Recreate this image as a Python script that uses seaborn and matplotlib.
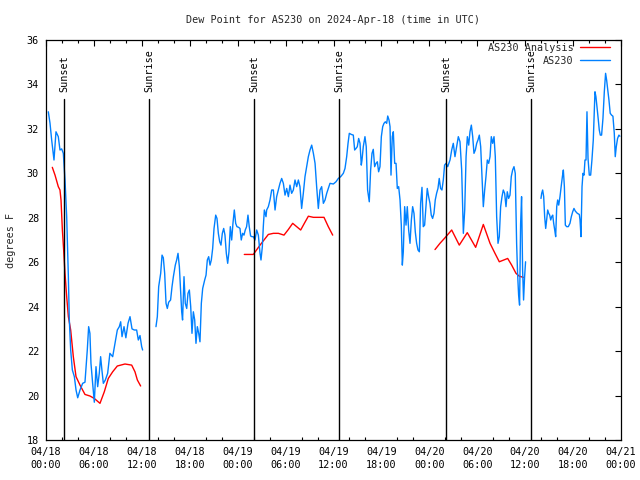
import numpy as np
import pandas as pd
import matplotlib
matplotlib.use("Agg")
import matplotlib.pyplot as plt
import matplotlib.transforms as mtransforms
from matplotlib.lines import Line2D
from matplotlib.ticker import MultipleLocator
import seaborn as sns

nan = np.nan

title = "Dew Point for AS230 on 2024-Apr-18 (time in UTC)"
y_label = "degrees F"
series_names = ["AS230 Analysis", "AS230"]
series_colors = ["#ff0000", "#0080ff"]

# hours since 2024-04-18 00:00 UTC ; NaN marks a gap in the record
obs_hours = [
    0.29, 0.5, 0.71, 1.0, 1.25, 1.54, 1.75, 1.96, 2.17, 2.38, 2.59, 2.8, 2.92, 3.09, 3.3, 3.55, 3.76, 3.97,
    4.26, 4.59, 4.88, 5.17, 5.34, 5.5, 5.63, 5.84, 6.05, 6.26, 6.47, 6.67, 6.84, 7.0, 7.18, 7.43, 7.72, 8.0,
    8.35, 8.64, 8.93, 9.18, 9.35, 9.52, 9.77, 10.0, 10.27, 10.52, 10.77, 11.06, 11.35, 11.56, 11.77, 11.98, 12.1,
    nan,
    13.77, 13.94, 14.11, 14.36, 14.53, 14.69, 14.86, 15.03, 15.19, 15.36, 15.6, 15.78, 15.95, 16.19, 16.36,
    16.53, 16.7, 16.87, 16.99, 17.1, 17.28, 17.44, 17.62, 17.78, 17.95, 18.12, 18.28, 18.45, 18.62, 18.78,
    18.95, 19.12, 19.28, 19.45, 19.62, 19.87, 20.04, 20.2, 20.37, 20.54, 20.7, 20.87, 21.04, 21.25, 21.41,
    21.58, 21.75, 21.91, 22.08, 22.25, 22.41, 22.58, 22.75, 22.91, 23.08, 23.25, 23.41, 23.58, 23.75, 23.91,
    24.12, 24.29, 24.45, 24.62, 24.79, 24.95, 25.12, 25.29, 25.45, 25.62, 25.79,
    25.96, 26.17, 26.38, 26.59, 26.8, 26.92, 27.09, 27.21, 27.34, 27.55, 27.63, 27.84, 28.05, 28.26, 28.47,
    28.68, 28.88, 29.09, 29.3, 29.51, 29.72, 29.93, 30.14, 30.35, 30.55, 30.76, 30.97, 31.18, 31.39, 31.6,
    31.8, 32.01, 32.22, 32.43, 32.64, 32.85, 33.06, 33.27, 33.48, 33.69, 33.89, 34.1, 34.31, 34.52, 34.73,
    34.94, 35.15, 35.35, 35.56, 35.98, 36.31, 36.6, 36.9, 37.23, 37.44, 37.65, 37.82, 37.98,
    38.23, 38.48, 38.65, 38.82, 38.98, 39.15, 39.32, 39.48, 39.57, 39.73, 39.94, 40.1, 40.27, 40.48, 40.65,
    40.82, 40.98, 41.15, 41.32, 41.49, 41.65, 41.82, 41.99, 42.16, 42.32, 42.49, 42.66, 42.79, 42.95, 43.08,
    43.2, 43.36, 43.49, 43.66, 43.83, 43.99, 44.16, 44.33, 44.49, 44.62, 44.74, 44.91, 45.08, 45.24, 45.41,
    45.58, 45.75, 45.91, 46.08, 46.24, 46.41, 46.58, 46.75, 46.91, 47.08, 47.24, 47.41, 47.58, 47.74, 47.91,
    48.08, 48.24, 48.41, 48.58, 48.74, 48.91, 49.08, 49.24, 49.41, 49.58, 49.75, 49.91,
    50.09, 50.3, 50.59, 50.8, 51.0, 51.21, 51.42, 51.63, 51.84, 52.05, 52.26, 52.43, 52.6, 52.76, 52.93,
    53.09, 53.26, 53.43, 53.59, 53.76, 53.93, 54.09, 54.26, 54.43, 54.6, 54.76, 54.93, 55.09, 55.26, 55.43,
    55.6, 55.76, 55.93, 56.1, 56.26, 56.43, 56.6, 56.76, 56.93, 57.1, 57.26, 57.43, 57.6, 57.76, 57.93,
    58.1, 58.26, 58.43, 58.6, 58.76, 58.93, 59.05, 59.18, 59.3, 59.43, 59.55, 59.68, 59.8, 59.93, 60.05,
    nan,
    61.98, 62.07, 62.19, 62.32, 62.44, 62.57, 62.69, 62.82, 62.95, 63.07, 63.2, 63.32, 63.45, 63.57, 63.7,
    63.82, 63.95, 64.07, 64.2, 64.36, 64.53, 64.66, 64.78, 64.91, 65.03, 65.2, 65.4, 65.61, 65.78, 65.95,
    66.11, 66.28, 66.53, 66.78, 66.87, 66.99, 67.12, 67.24, 67.37, 67.49, 67.62, 67.74, 67.87, 68.03, 68.2,
    68.36, 68.53, 68.74, 68.86, 68.99, 69.16, 69.28, 69.41, 69.57, 69.74, 69.91, 70.07, 70.2, 70.32, 70.49,
    70.65, 70.82, 70.99, 71.16, 71.28, 71.41, 71.57, 71.74, 71.86,
]
obs_values = [
    32.77, 32.26, 31.5, 30.6, 31.87, 31.65, 31.05, 31.1, 30.9, 29.7, 28.05, 25.35, 23.4, 22.05, 21.15, 20.85, 20.25, 19.9,
    20.25, 20.55, 20.6, 22.05, 23.1, 22.8, 21.45, 20.55, 19.7, 21.3, 20.4, 21.0, 21.75, 21.15, 20.55, 20.7, 21.0, 21.9,
    21.75, 22.35, 22.95, 23.1, 23.32, 22.65, 23.1, 22.6, 23.25, 23.55, 23.0, 22.95, 22.95, 22.5, 22.7, 22.2, 22.05,
    nan,
    23.1, 23.55, 24.9, 25.5, 26.32, 26.2, 25.5, 24.15, 23.92, 24.2, 24.3, 24.9, 25.35, 25.87, 26.1,
    26.4, 25.8, 24.6, 23.77, 23.4, 25.35, 24.15, 23.92, 24.6, 24.75, 24.0, 22.8, 23.77, 23.4, 22.35,
    23.1, 22.8, 22.42, 24.15, 24.82, 25.2, 25.42, 26.1, 26.25, 25.87, 26.1, 26.62, 27.52, 28.12, 27.97,
    27.3, 26.92, 26.77, 27.3, 27.52, 27.22, 26.4, 25.95, 26.47, 27.6, 27.0, 27.75, 28.35, 27.75, 27.6,
    27.57, 27.52, 27.0, 27.3, 27.22, 27.45, 27.6, 28.12, 27.6, 27.18, 27.15,
    27.15, 27.0, 27.45, 27.22, 26.4, 26.1, 26.7, 27.6, 28.35, 28.05, 28.35, 28.5, 28.8, 29.25, 29.25,
    28.35, 28.95, 29.25, 29.55, 29.77, 29.55, 29.02, 29.32, 28.95, 29.47, 29.1, 29.25, 29.7, 29.4, 29.7,
    29.4, 28.42, 29.1, 29.85, 30.3, 30.75, 31.05, 31.27, 30.9, 30.45, 29.4, 28.42, 29.25, 29.4, 28.65,
    28.8, 29.1, 29.32, 29.55, 29.52, 29.62, 29.77, 29.85, 30.0, 30.22, 30.75, 31.35, 31.8,
    31.75, 31.72, 31.05, 31.12, 31.2, 31.57, 31.35, 30.37, 30.6, 31.2, 31.65, 31.2, 29.25, 28.72, 30.15,
    30.9, 31.08, 30.3, 30.45, 30.52, 30.07, 30.3, 31.65, 32.1, 32.25, 32.32, 32.25, 32.58, 32.4, 32.1,
    29.92, 31.65, 31.87, 30.45, 30.45, 29.32, 29.4, 28.8, 27.67, 25.87, 26.47, 28.5, 27.67, 28.5, 27.45,
    26.85, 27.9, 28.5, 28.2, 27.37, 26.85, 26.55, 26.47, 28.65, 29.37, 27.6, 27.67, 28.5, 29.32, 28.95,
    28.65, 28.12, 27.97, 28.2, 28.8, 29.1, 29.32, 29.77, 29.32, 29.25, 29.7, 30.37,
    30.45, 30.3, 30.6, 31.05, 31.35, 30.75, 31.2, 31.65, 31.42, 30.15, 27.3, 28.35, 30.75, 31.65, 31.27,
    31.87, 32.17, 31.65, 30.9, 31.05, 31.35, 31.5, 31.72, 31.2, 29.77, 28.5, 29.25, 29.85, 30.6, 30.45,
    30.75, 31.65, 31.35, 31.65, 30.75, 28.05, 26.85, 27.15, 28.5, 28.95, 29.25, 29.1, 28.5, 29.17, 28.87,
    29.02, 29.85, 30.15, 30.3, 30.0, 26.85, 25.5, 24.52, 24.07, 27.72, 28.95, 25.65, 24.3, 25.35, 26.02,
    nan,
    28.87, 29.1, 29.25, 28.95, 28.05, 27.52, 27.9, 28.35, 28.2, 28.12, 27.9, 28.05, 28.12, 27.75, 27.45,
    27.15, 28.5, 28.8, 28.57, 28.95, 29.47, 29.85, 30.15, 29.4, 27.67, 27.6, 27.6, 27.75, 28.05, 28.27,
    28.42, 28.3, 28.2, 28.15, 27.9, 27.15, 29.4, 30.0, 29.92, 30.6, 30.6, 32.77, 30.67, 29.92, 29.92,
    30.6, 31.5, 33.67, 33.45, 33.0, 32.4, 31.95, 31.72, 31.72, 32.47, 33.67, 34.5, 34.2, 33.82, 33.3,
    32.7, 32.62, 32.57, 31.8, 30.75, 31.2, 31.57, 31.72, 31.67,
]

ana_hours = [
    0.79, 1.13, 1.54, 1.75, 1.88, 2.05, 2.21, 2.38, 2.59, 2.8, 3.09, 3.42, 3.76, 4.26, 4.88, 5.5, 6.05,
    6.76, 7.3, 7.8, 8.35, 8.93, 9.89, 10.73, 11.14, 11.44, 11.85,
    nan,
    24.83, 25.96, 26.8, 27.84, 28.47, 29.1, 29.8, 30.34, 30.89, 31.39, 31.89, 32.35, 32.85, 33.48, 34.31,
    34.81, 35.35, 35.9,
    nan,
    48.71, 49.33, 49.96, 50.8, 51.75, 52.75, 53.8, 54.76, 55.6, 56.22, 56.76, 57.81, 58.31, 58.85, 59.27, 59.77,
]
ana_values = [
    30.27, 29.92, 29.4, 29.25, 28.8, 27.45, 26.55, 25.5, 24.45, 23.55, 22.95, 21.75, 20.85, 20.47, 20.05, 19.98, 19.87,
    19.65, 20.17, 20.77, 21.07, 21.33, 21.42, 21.37, 21.07, 20.7, 20.43,
    nan,
    26.35, 26.35, 26.77, 27.25, 27.3, 27.3, 27.22, 27.47, 27.75, 27.6, 27.45, 27.75, 28.07, 28.02, 28.02,
    28.02, 27.6, 27.22,
    nan,
    26.57, 26.85, 27.1, 27.45, 26.77, 27.33, 26.67, 27.7, 26.85, 26.4, 26.02, 26.17, 25.87, 25.5, 25.37, 25.32,
]

sun_event_hours = [2.25, 12.9, 26.05, 36.7, 50.1, 60.73]
sun_event_labels = ["Sunset", "Sunrise", "Sunset", "Sunrise", "Sunset", "Sunrise"]

x_tick_hours = [0, 6, 12, 18, 24, 30, 36, 42, 48, 54, 60, 66, 72]
x_tick_labels = ["04/18\n00:00", "04/18\n06:00", "04/18\n12:00", "04/18\n18:00",
                 "04/19\n00:00", "04/19\n06:00", "04/19\n12:00", "04/19\n18:00",
                 "04/20\n00:00", "04/20\n06:00", "04/20\n12:00", "04/20\n18:00",
                 "04/21\n00:00"]
y_ticks = [18, 20, 22, 24, 26, 28, 30, 32, 34, 36]


def to_frame(hours, values):
    h = np.asarray(hours, dtype=float)
    v = np.asarray(values, dtype=float)
    seg = np.cumsum(np.isnan(h))
    df = pd.DataFrame({"hour": h, "value": v, "seg": seg})
    return df.dropna().reset_index(drop=True)


sns.set_style("white")
plt.rcParams["font.family"] = ["DejaVu Sans Mono"]
plt.rcParams["font.size"] = 7.3

fig = plt.figure(figsize=(6.4, 4.8), dpi=100)
ax = fig.add_axes([46 / 640, 40 / 480, 575 / 640, 400 / 480])

ana_df = to_frame(ana_hours, ana_values)
obs_df = to_frame(obs_hours, obs_values)

sns.lineplot(data=ana_df, x="hour", y="value", units="seg", estimator=None, sort=False,
             color=series_colors[0], lw=1.0, ax=ax, legend=False)
sns.lineplot(data=obs_df, x="hour", y="value", units="seg", estimator=None, sort=False,
             color=series_colors[1], lw=1.0, ax=ax, legend=False)

trans = mtransforms.blended_transform_factory(ax.transData, ax.transAxes)
for xh, lab in zip(sun_event_hours, sun_event_labels):
    ax.axvline(xh, ymin=0, ymax=0.8525, color="black", lw=1.0)
    ax.text(xh, 0.87, lab, rotation=90, ha="center", va="bottom", transform=trans,
            fontsize=7.3, color="black")

ax.set_xlim(0, 72)
ax.set_ylim(18, 36)
ax.set_xticks(x_tick_hours)
ax.set_xticklabels(x_tick_labels, linespacing=1.35)
ax.xaxis.set_minor_locator(MultipleLocator(2))
ax.set_yticks(y_ticks)
ax.set_xlabel("")
ax.set_ylabel(y_label, labelpad=8)
ax.set_title(title, pad=12, fontsize=7.3)

ax.tick_params(axis="both", which="major", direction="in", top=True, right=True,
               length=4.5, width=0.8, colors="black", pad=5)
ax.tick_params(axis="x", which="minor", direction="in", top=True, bottom=True,
               length=2.5, width=0.8, colors="black")
ax.tick_params(axis="y", which="major", pad=5)
for sp in ax.spines.values():
    sp.set_color("black")
    sp.set_linewidth(0.9)
ax.grid(False)

handles = [Line2D([0], [0], color=c, lw=1.0) for c in series_colors]
leg = ax.legend(handles, series_names, loc="upper right", bbox_to_anchor=(0.981, 0.9925),
                frameon=False, markerfirst=False, handlelength=3.0, handletextpad=0.6,
                borderpad=0, borderaxespad=0, labelspacing=0.3, fontsize=7.3)

fig.savefig("out.png", dpi=100)
